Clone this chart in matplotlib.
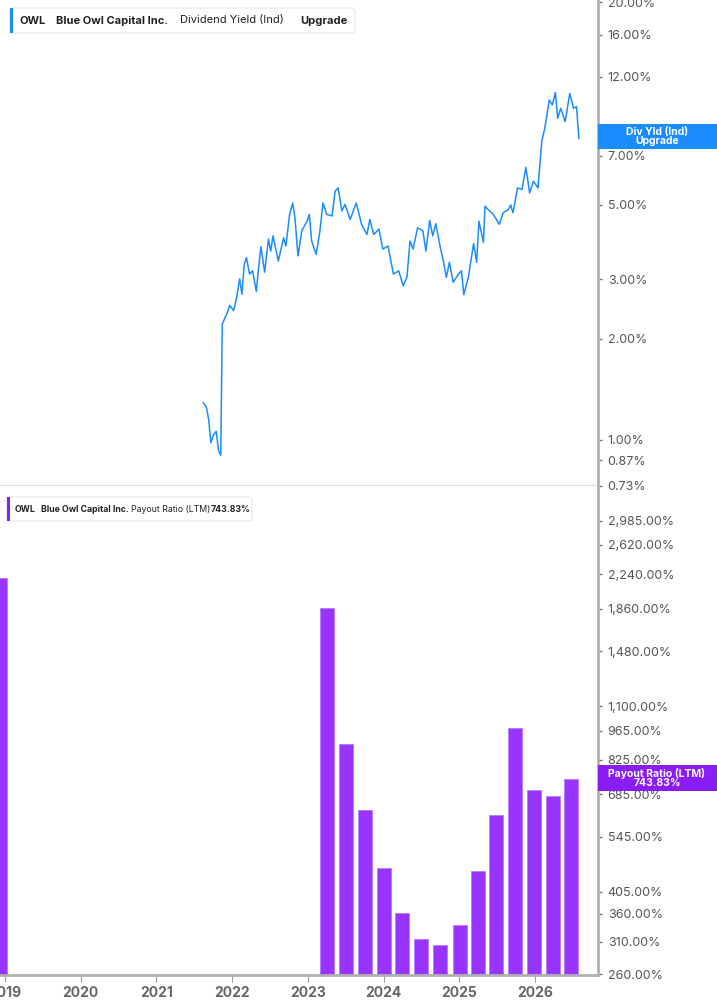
import matplotlib.pyplot as plt
from matplotlib.patches import Rectangle, FancyBboxPatch
from matplotlib.ticker import FixedLocator, NullLocator, NullFormatter

plt.rcParams['font.family'] = ['Inter', 'DejaVu Sans']

# dividend yield (%)
yld_dates = [2021.62, 2021.66, 2021.69, 2021.72, 2021.75, 2021.79, 2021.82, 2021.85, 2021.87, 2021.93,
             2021.97, 2022.02, 2022.06, 2022.10, 2022.13, 2022.16, 2022.19, 2022.23, 2022.27, 2022.32,
             2022.35, 2022.38, 2022.43, 2022.48, 2022.51, 2022.54, 2022.61, 2022.68, 2022.71, 2022.76,
             2022.80, 2022.83, 2022.87, 2022.92, 2022.99, 2023.02, 2023.05, 2023.11, 2023.16, 2023.20,
             2023.25, 2023.32, 2023.36, 2023.40, 2023.45, 2023.49, 2023.56, 2023.64, 2023.71, 2023.78,
             2023.82, 2023.87, 2023.94, 2023.99, 2024.06, 2024.13, 2024.20, 2024.26, 2024.31, 2024.35,
             2024.39, 2024.45, 2024.52, 2024.56, 2024.61, 2024.65, 2024.69, 2024.75, 2024.79, 2024.83,
             2024.87, 2024.92, 2024.99, 2025.03, 2025.06, 2025.12, 2025.19, 2025.23, 2025.26, 2025.32,
             2025.34, 2025.38, 2025.45, 2025.53, 2025.58, 2025.65, 2025.68, 2025.71, 2025.77, 2025.83,
             2025.88, 2025.93, 2025.98, 2026.04, 2026.09, 2026.13, 2026.19, 2026.23, 2026.27, 2026.30,
             2026.34, 2026.40, 2026.46, 2026.51, 2026.55, 2026.58]
yld_vals = [1.29, 1.25, 1.15, 0.98, 1.03, 1.06, 0.93, 0.90, 2.21, 2.37,
            2.51, 2.42, 2.65, 3.01, 2.71, 3.33, 3.48, 3.11, 3.18, 2.76,
            3.25, 3.75, 3.15, 3.95, 3.64, 4.04, 3.40, 3.99, 3.77, 4.68,
            5.06, 4.57, 3.52, 4.18, 4.47, 4.68, 3.90, 3.56, 4.18, 5.06,
            4.68, 4.63, 5.48, 5.61, 4.79, 5.01, 4.52, 5.06, 4.37, 4.08,
            4.52, 4.08, 4.23, 3.69, 3.77, 3.11, 3.18, 2.87, 3.05, 3.90,
            3.69, 4.27, 4.18, 3.64, 4.49, 4.04, 4.39, 3.73, 3.40, 3.04,
            3.37, 2.94, 3.11, 3.18, 2.70, 3.04, 3.83, 3.37, 4.47, 3.86,
            4.95, 4.84, 4.68, 4.37, 4.73, 4.84, 4.99, 4.73, 5.61, 5.55,
            6.46, 5.42, 5.87, 5.61, 7.71, 8.44, 10.24, 9.90, 10.78, 9.03,
            9.67, 8.83, 10.71, 9.67, 9.78, 7.88]

# payout ratio LTM (%), quarterly
pay_dates = [2018.93, 2023.25, 2023.50, 2023.76, 2024.01, 2024.24, 2024.50, 2024.75,
             2025.01, 2025.25, 2025.49, 2025.74, 2025.99, 2026.24, 2026.48]
pay_vals = [2197, 1865, 900, 630, 460, 362, 314, 305, 339, 453, 614, 979, 699, 679, 743.83]

yld_ticks = [0.73, 0.87, 1, 2, 3, 5, 7, 8, 12, 16, 20]
pay_ticks = [260, 310, 360, 405, 545, 685, 825, 965, 1100, 1480, 1860, 2240, 2620, 2985]
years = [2019, 2020, 2021, 2022, 2023, 2024, 2025, 2026]

W, H = 717, 1005
fig = plt.figure(figsize=(W / 100, H / 100), dpi=100)
ax_right = 598 / W
ax1 = fig.add_axes([0, 1 - 486 / H, ax_right, 486 / H])
ax2 = fig.add_axes([0, 30 / H, ax_right, 489 / H])

ax1.plot(yld_dates, yld_vals, color='#1a8cff', lw=1.1)
ax1.set_yscale('log')
ax1.set_ylim(0.729, 20.3)
ax1.set_xticks([])
ax1.spines['bottom'].set_color('#dddddd')
ax1.spines['bottom'].set_linewidth(2)

ax2.bar(pay_dates, pay_vals, width=0.185, color='#9933ff', edgecolor='#b57aff', linewidth=0.6)
ax2.set_yscale('log')
ax2.set_ylim(259, 3597)
ax2.set_xticks(years)
ax2.set_xticklabels([str(y) for y in years], fontweight='bold')
ax2.tick_params(axis='x', length=5, color='#999999', labelcolor='#666666', labelsize=10, pad=3)
ax2.spines['bottom'].set_color('#b0b0b0')
ax2.spines['bottom'].set_linewidth(2)

for ax, ticks, fmt in ((ax1, yld_ticks, '{:.2f}%'), (ax2, pay_ticks, '{:,.2f}%')):
    ax.set_xlim(2018.934, 2026.833)
    ax.spines['left'].set_visible(False)
    ax.spines['top'].set_visible(False)
    ax.spines['right'].set_color('#b0b0b0')
    ax.spines['right'].set_linewidth(2)
    ax.yaxis.tick_right()
    ax.yaxis.set_major_locator(FixedLocator(ticks))
    ax.yaxis.set_minor_locator(NullLocator())
    ax.yaxis.set_minor_formatter(NullFormatter())
    ax.set_yticklabels([fmt.format(t) for t in ticks])
    ax.tick_params(axis='y', which='both', length=3, width=1, color='#777777',
                   labelcolor='#555555', labelsize=9, pad=4)


def px(x, y):
    return x / W, 1 - y / H


def header(x0, x1, y0, y1, color, parts, size):
    fig.patches.append(FancyBboxPatch(px(x0, y1), (x1 - x0) / W, (y1 - y0) / H,
                                      boxstyle='round,pad=0,rounding_size=0.004',
                                      transform=fig.transFigure, facecolor='white',
                                      edgecolor='#e6e6e6', lw=0.8, zorder=5))
    fig.patches.append(Rectangle(px(x0, y1), 3 / W, (y1 - y0) / H, transform=fig.transFigure,
                                 facecolor=color, edgecolor='none', zorder=6))
    for x, txt, bold in parts:
        fig.text(*px(x, (y0 + y1) / 2), txt, fontsize=size, fontweight='bold' if bold else 'normal',
                 color='#222222', va='center', ha='left', zorder=7)


header(10, 355, 8, 33, '#1a8cff',
       [(20, 'OWL', True), (56, 'Blue Owl Capital Inc.', True),
        (180, 'Dividend Yield (Ind)', False), (300, 'Upgrade', True)], 8.0)
header(7, 252, 497, 521, '#8a1cf5',
       [(15, 'OWL', True), (41, 'Blue Owl Capital Inc.', True),
        (131, 'Payout Ratio (LTM)', False), (211, '743.83%', True)], 6.3)


def side_label(y0, y1, color, txt):
    fig.patches.append(Rectangle(px(598, y1), (W - 598) / W, (y1 - y0) / H,
                                 transform=fig.transFigure, facecolor=color,
                                 edgecolor='none', zorder=8))
    fig.text(*px(657, (y0 + y1) / 2), txt, fontsize=7.5, fontweight='bold', color='white',
             ha='center', va='center', linespacing=0.95, zorder=9)


side_label(124, 149, '#1a8cff', 'Div Yld (Ind)\nUpgrade')
side_label(765, 791, '#8a1cf5', 'Payout Ratio (LTM)\n743.83%')

fig.savefig('out.png', dpi=100)
